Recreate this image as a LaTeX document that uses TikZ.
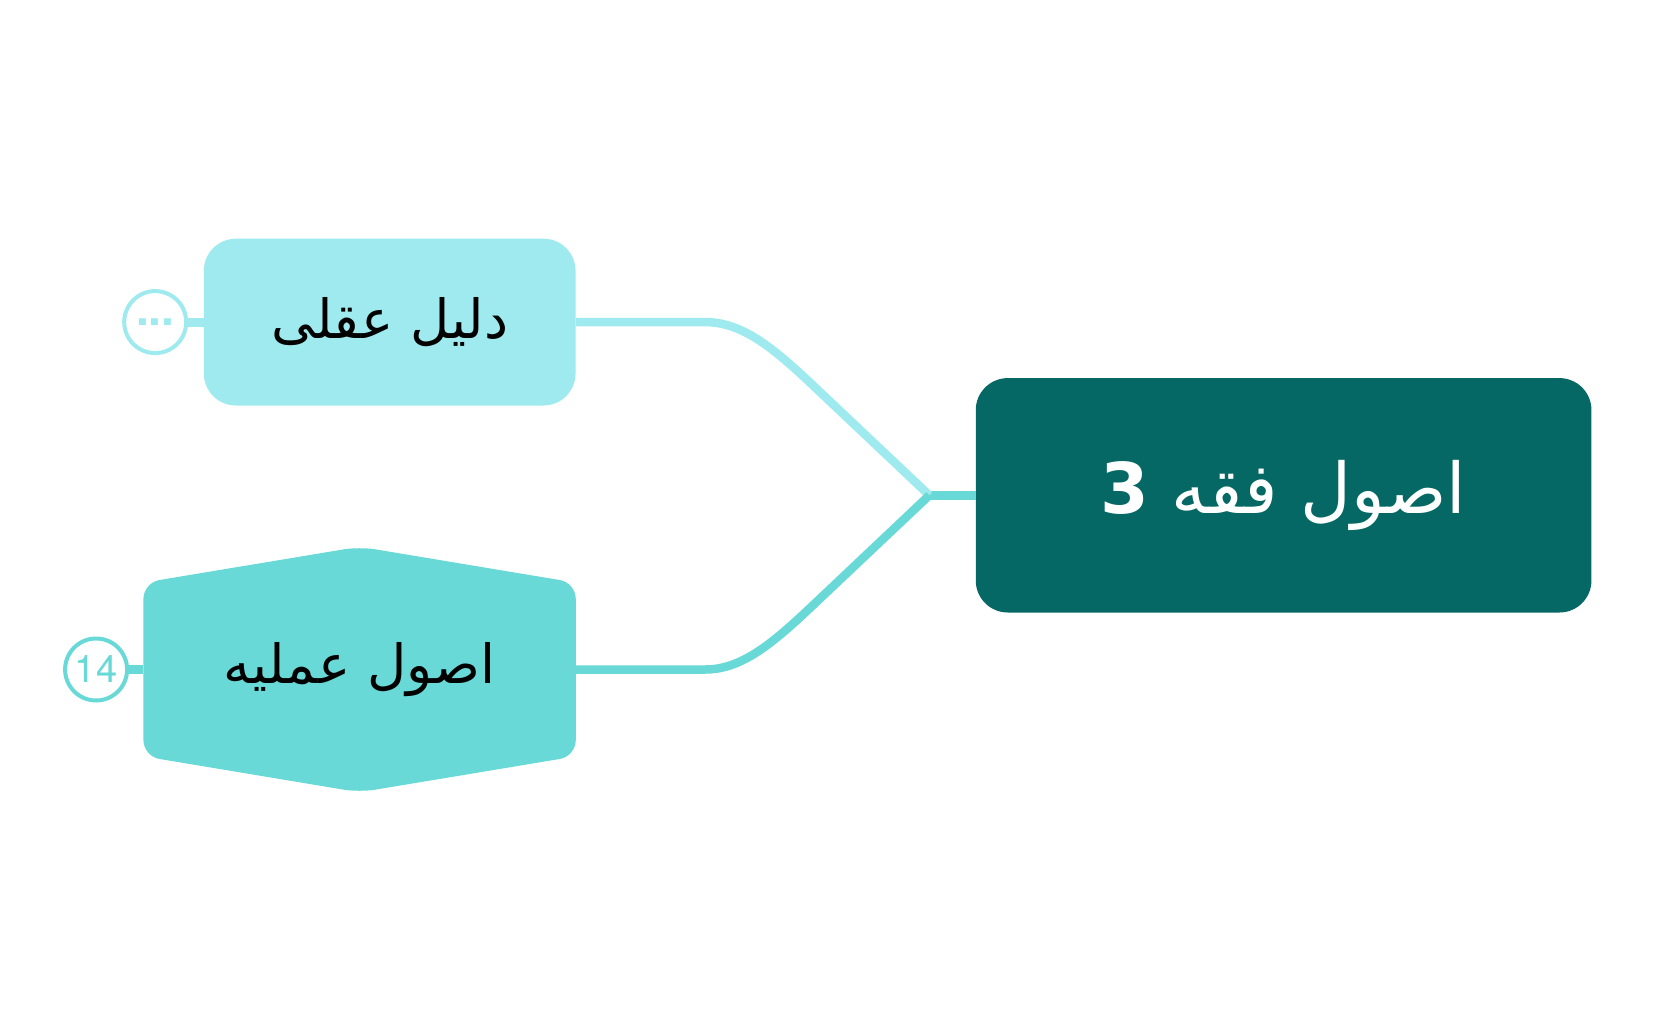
\documentclass[tikz,border=0pt]{standalone}
\usepackage{fontspec}
\setmainfont{Liberation Sans}
\newfontfamily\arabicfont[Script=Arabic]{DejaVu Sans}
\newfontfamily\badgefont{TeX Gyre Heros}
\TeXXeTstate=1
\definecolor{lightc}{HTML}{9EEAEF}
\definecolor{midc}{HTML}{68D9D6}
\definecolor{darkc}{HTML}{066864}
\tikzset{
  rootbox/.style={fill=darkc, rounded corners=32pt, minimum width=615.7pt, minimum height=234.4pt, inner sep=0pt, text=white, font=\arabicfont\fontsize{70}{76}\selectfont},
  topicbox/.style={rounded corners=32pt, inner sep=0pt, text=black, font=\arabicfont\fontsize{54}{58}\selectfont},
  conn/.style={line width=8.5pt},
  stub/.style={line width=9pt},
  badge/.style={circle, fill=white, line width=4pt, inner sep=0pt, minimum size=62pt}
}
\begin{document}
\begin{tikzpicture}[x=1pt,y=-1pt]
\useasboundingbox (0,0) rectangle (1656,1032);
% root
\node[rootbox] (root) at (1283.6,495.3) {\beginR اصول فقه {\bfseries 3}\endR};
% topic 1
\node[topicbox, fill=lightc, minimum width=371.7pt, minimum height=166.8pt] (b1) at (389.7,322.1) {\beginR دلیل عقلی\endR};
% topic 2 (hexagon)
\node[topicbox, minimum width=431.9pt, minimum height=173.2pt] (b2) at (359.6,669.5) {};
\fill[midc, rounded corners=16pt] (b2.north west) -- ([yshift=36pt]b2.north) -- (b2.north east) -- (b2.south east) -- ([yshift=-36pt]b2.south) -- (b2.south west) -- cycle;
\node[topicbox] (t2) at (b2.center) {\beginR اصول عملیه\endR};
% badges
\node[badge, draw=lightc] (c1) at (155.2,322.1) {};
\node[text=lightc, inner sep=0pt, font=\badgefont\bfseries\fontsize{46}{46}\selectfont] (d1) at (c1.center) {...};
\node[badge, draw=midc, text=midc, font=\badgefont\fontsize{38}{38}\selectfont] (c2) at (96.1,669.5) {14};
\draw[stub, lightc] (c1.east) -- (b1.west);
\draw[stub, midc] (c2.east) -- (b2.west);
% connectors
\coordinate (j) at (929.3,495.3);
\draw[conn, midc] (root.west) -- (j);
\draw[conn, lightc] (j) -- (813,385.4) .. controls (773,347.6) and (742,322.1) .. (705.4,322.1) -- (b1.east);
\draw[conn, midc] (j) -- (813,605.2) .. controls (773,643) and (742,669.5) .. (705.4,669.5) -- (b2.east);
\end{tikzpicture}
\end{document}
